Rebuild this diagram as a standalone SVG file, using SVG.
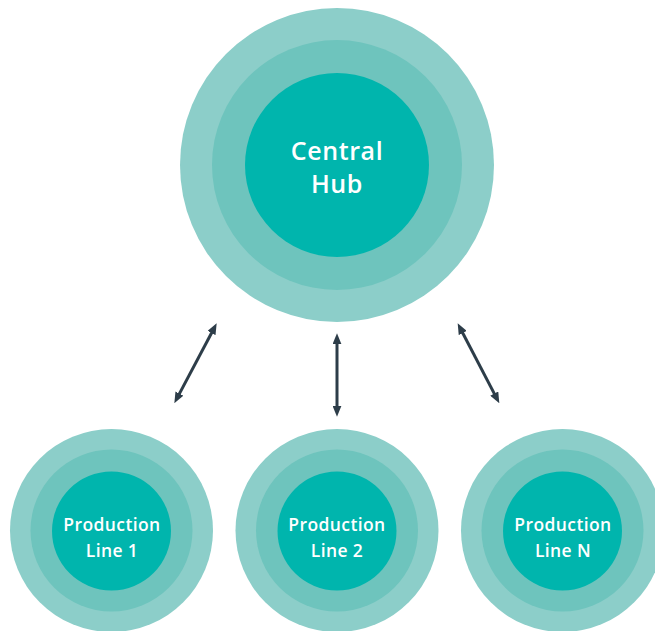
<svg xmlns="http://www.w3.org/2000/svg" width="655" height="631" viewBox="0 0 655 631">
  <defs>
    <style>
      .outer { fill: #8ccec9; }
      .middle { fill: #6ec4bd; }
      .inner { fill: #00b5ad; }
      .hub-label { font-family: "Open Sans", "Liberation Sans", sans-serif; font-weight: 600; font-size: 25px; letter-spacing: 0.6px; fill: #ffffff; text-anchor: middle; }
      .line-label { font-family: "Open Sans", "Liberation Sans", sans-serif; font-weight: 600; font-size: 17.5px; letter-spacing: 0.4px; fill: #ffffff; text-anchor: middle; }
      .conn { stroke: #2d3d49; stroke-width: 3; fill: none; marker-start: url(#arrow); marker-end: url(#arrow); }
    </style>
    <marker id="arrow" markerUnits="userSpaceOnUse" markerWidth="11" markerHeight="9" refX="4" refY="4.5" orient="auto-start-reverse">
      <path d="M0,0 L11,4.5 L0,9 z" fill="#2d3d49"/>
    </marker>
  </defs>
  <rect width="655" height="631" fill="#ffffff"/>

  <g id="central-hub">
    <circle class="outer" cx="337" cy="165" r="157"/>
    <circle class="middle" cx="337" cy="165" r="125"/>
    <circle class="inner" cx="337" cy="165" r="92"/>
    <text class="hub-label" x="337" y="160">Central</text>
    <text class="hub-label" x="337" y="193">Hub</text>
  </g>

  <g id="production-line-1">
    <circle class="outer" cx="111.5" cy="530.5" r="101.5"/>
    <circle class="middle" cx="111.5" cy="530.5" r="81"/>
    <circle class="inner" cx="111.5" cy="531" r="59.5"/>
    <text class="line-label" x="112" y="531">Production</text>
    <text class="line-label" x="112" y="557">Line 1</text>
  </g>

  <g id="production-line-2">
    <circle class="outer" cx="337" cy="530.5" r="101.5"/>
    <circle class="middle" cx="337" cy="530.5" r="81"/>
    <circle class="inner" cx="337" cy="531" r="59.5"/>
    <text class="line-label" x="337" y="531">Production</text>
    <text class="line-label" x="337" y="557">Line 2</text>
  </g>

  <g id="production-line-n">
    <circle class="outer" cx="562.5" cy="530.5" r="101.5"/>
    <circle class="middle" cx="562.5" cy="530.5" r="81"/>
    <circle class="inner" cx="562.5" cy="531" r="59.5"/>
    <text class="line-label" x="563" y="531">Production</text>
    <text class="line-label" x="563" y="557">Line N</text>
  </g>

  <g id="connectors">
    <line class="conn" x1="177.6" y1="397.1" x2="213.4" y2="329.5"/>
    <line class="conn" x1="337" y1="409.7" x2="337" y2="340.3"/>
    <line class="conn" x1="496.1" y1="397.1" x2="460.9" y2="329.5"/>
  </g>
</svg>
